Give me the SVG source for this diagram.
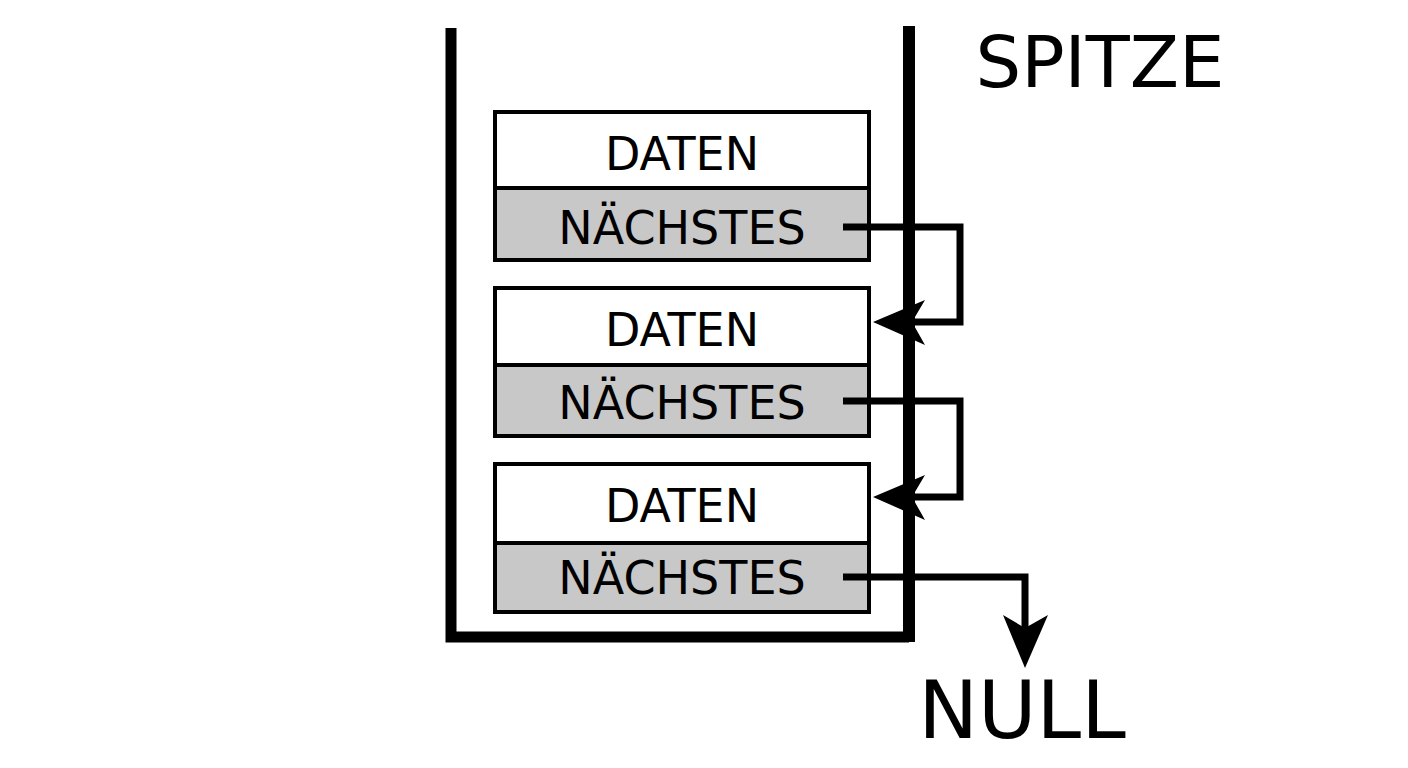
<svg xmlns="http://www.w3.org/2000/svg" width="1408" height="768" viewBox="0 0 1408 768">
<style>
.t{font-family:"DejaVu Sans",sans-serif;fill:#000}
.f{font-size:46px}
.box{stroke:#000;stroke-width:4}
.c{fill:none;stroke:#000;stroke-width:7}
</style>
<rect width="1408" height="768" fill="#fff"/>
<g id="stack">
<path d="M451 28 V637 H909" fill="none" stroke="#000" stroke-width="11"/>
<line x1="909" y1="26" x2="909" y2="642" stroke="#000" stroke-width="12"/>
</g>
<g id="node1">
<rect class="box" x="495" y="112" width="374" height="76" fill="#fff"/>
<rect class="box" x="495" y="188" width="374" height="72" fill="#c8c8c8"/>
<text class="t f" x="682" y="170" text-anchor="middle">DATEN</text>
<text class="t f" x="682" y="244" text-anchor="middle">NÄCHSTES</text>
</g>
<g id="node2">
<rect class="box" x="495" y="288" width="374" height="77" fill="#fff"/>
<rect class="box" x="495" y="365" width="374" height="71" fill="#c8c8c8"/>
<text class="t f" x="682" y="346" text-anchor="middle">DATEN</text>
<text class="t f" x="682" y="419" text-anchor="middle">NÄCHSTES</text>
</g>
<g id="node3">
<rect class="box" x="495" y="464" width="374" height="79" fill="#fff"/>
<rect class="box" x="495" y="543" width="374" height="69" fill="#c8c8c8"/>
<text class="t f" x="682" y="522" text-anchor="middle">DATEN</text>
<text class="t f" x="682" y="594" text-anchor="middle">NÄCHSTES</text>
</g>
<g id="spitze"><text class="t" x="1100" y="87" font-size="72" text-anchor="middle">SPITZE</text></g>
<g id="null"><text class="t" x="1022" y="738" font-size="80" text-anchor="middle">NULL</text></g>
<g id="connectors">
<path class="c" d="M843 227 H960 V322 H915"/>
<path d="M873 322 L925 300 L912 322 L925 345 Z"/>
<path class="c" d="M843 401 H960 V497 H915"/>
<path d="M873 497 L925 475 L912 497 L925 520 Z"/>
<path class="c" d="M843 577 H1025 V640"/>
<path d="M1025 668 L1003 615 L1025 628 L1048 615 Z"/>
</g>
</svg>
